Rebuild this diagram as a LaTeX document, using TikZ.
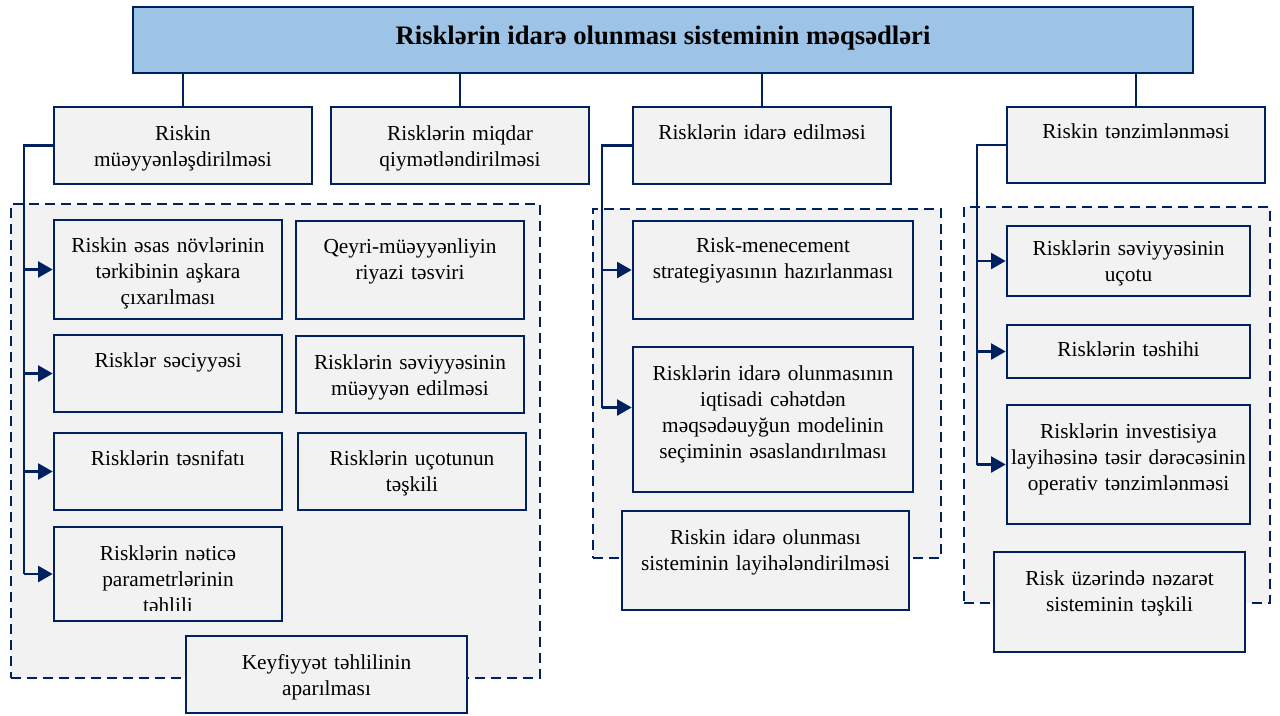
\documentclass[tikz,border=0pt]{standalone}
\usepackage{fontspec}
\setmainfont{Liberation Serif}
\usetikzlibrary{arrows.meta,fit}

\definecolor{linenavy}{RGB}{0,32,96}
\definecolor{boxgray}{HTML}{F2F2F2}
\definecolor{titleblue}{HTML}{9DC3E6}

\tikzset{
  box/.style={draw=linenavy, line width=2pt, fill=boxgray, inner sep=0pt},
  titlebox/.style={box, fill=titleblue},
  region/.style={draw=linenavy, line width=2pt, dash pattern=on 7.5pt off 4.5pt,
                 fill=boxgray, inner sep=0pt},
  txt/.style={inner sep=0pt, align=center, font=\fontsize{16pt}{19.5pt}\selectfont},
  conn/.style={draw=linenavy, line width=1.9pt},
  arr/.style={conn, -{Triangle[length=11pt,width=12pt]}},
}

% box from (x1,y1) to (x2,y2) with centred text whose first baseline is at y = #6
\newcommand\riskbox[7]{%
  \node[box, fit={(#2,#3) (#4,#5)}] (#1) {};
  \pgfmathsetmacro\riskboxwidth{(#4-#2)*0.75-3}%
  \node[txt, text width=\riskboxwidth pt, anchor=base] (#1-t) at ({(#2+#4)/2},#6) {#7};
}

\begin{document}
\begin{tikzpicture}[x=0.75pt, y=-0.75pt]
\useasboundingbox (0,0) rectangle (1280,715);

% dashed groups
\node[region, fit={(11,204) (540,678)}] (grpA) {};
\node[region, fit={(593,209) (941,558)}] (grpC) {};
\node[region, fit={(964,207) (1270,603)}] (grpD) {};

% title
\node[titlebox, fit={(133,7) (1193,73)}] (title) {};
\node[inner sep=0pt, anchor=base, font=\bfseries\fontsize{20pt}{24pt}\selectfont] (title-t)
  at (663,44) {Risklərin idarə olunması sisteminin məqsədləri};

% second level
\riskbox{A}{54}{107}{312}{184}{140}{Riskin\\müəyyənləşdirilməsi}
\riskbox{B}{331}{107}{589}{184}{140}{Risklərin miqdar\\qiymətləndirilməsi}
\riskbox{C}{633}{107}{891}{184}{139}{Risklərin idarə edilməsi}
\riskbox{D}{1007}{107}{1265}{183}{138}{Riskin tənzimlənməsi}

% identification group
\riskbox{L1}{54}{220}{282}{319}{252}{Riskin əsas növlərinin\\tərkibinin aşkara\\çıxarılması}
\riskbox{R1}{296}{221}{524}{319}{253}{Qeyri-müəyyənliyin\\riyazi təsviri}
\riskbox{L2}{54}{335}{282}{412}{367}{Risklər səciyyəsi}
\riskbox{R2}{296}{336}{524}{413}{369}{Risklərin səviyyəsinin\\müəyyən edilməsi}
\riskbox{L3}{54}{433}{282}{510}{465}{Risklərin təsnifatı}
\riskbox{R3}{298}{433}{526}{510}{465}{Risklərin uçotunun\\təşkili}
\node[box, fit={(54,527) (282,621)}] (L4) {};
\begin{scope}
  \clip (54,527) rectangle (282,610);
  \node[txt, text width=168pt, anchor=base] (L4-t) at (168,560)
    {Risklərin nəticə\\parametrlərinin\\təhlili};
\end{scope}
\riskbox{K}{186}{636}{467}{713}{669}{Keyfiyyət təhlilinin\\aparılması}

% management group
\riskbox{C1}{633}{221}{913}{319}{252}{Risk-menecement\\strategiyasının hazırlanması}
\riskbox{C2}{633}{347}{913}{492}{380}{Risklərin idarə olunmasının\\iqtisadi cəhətdən\\məqsədəuyğun modelinin\\seçiminin əsaslandırılması}
\riskbox{C3}{622}{511}{909}{610}{544}{Riskin idarə olunması\\sisteminin layihələndirilməsi}

% regulation group
\riskbox{D1}{1007}{226}{1250}{296}{255}{Risklərin səviyyəsinin\\uçotu}
\riskbox{D2}{1007}{325}{1250}{378}{356}{Risklərin təshihi}
\riskbox{D3}{1007}{405}{1250}{524}{438}{Risklərin investisiya\\layihəsinə təsir dərəcəsinin\\operativ tənzimlənməsi}
\riskbox{D4}{994}{552}{1245}{652}{585}{Risk üzərində nəzarət\\sisteminin təşkili}

% title to second level
\foreach \n in {A,B,C,D}
  \draw[conn] (title.south -| \n.north) -- (\n.north);

% bus lines
\coordinate (busA) at (24,0);
\coordinate (busC) at (602,0);
\coordinate (busD) at (977,0);

\draw[conn] (A.west) -| (busA |- L4.west);
\foreach \n in {L1,L2,L3,L4}
  \draw[arr] (busA |- \n.west) -- (\n.west);

\coordinate (c2in) at ([yshift=9pt]C2.west);
\draw[conn] (C.west) -| (busC |- c2in);
\draw[arr] (busC |- C1.west) -- (C1.west);
\draw[arr] (busC |- c2in) -- (c2in);

\draw[conn] (D.west) -| (busD |- D3.west);
\foreach \n in {D1,D2,D3}
  \draw[arr] (busD |- \n.west) -- (\n.west);
\end{tikzpicture}
\end{document}
